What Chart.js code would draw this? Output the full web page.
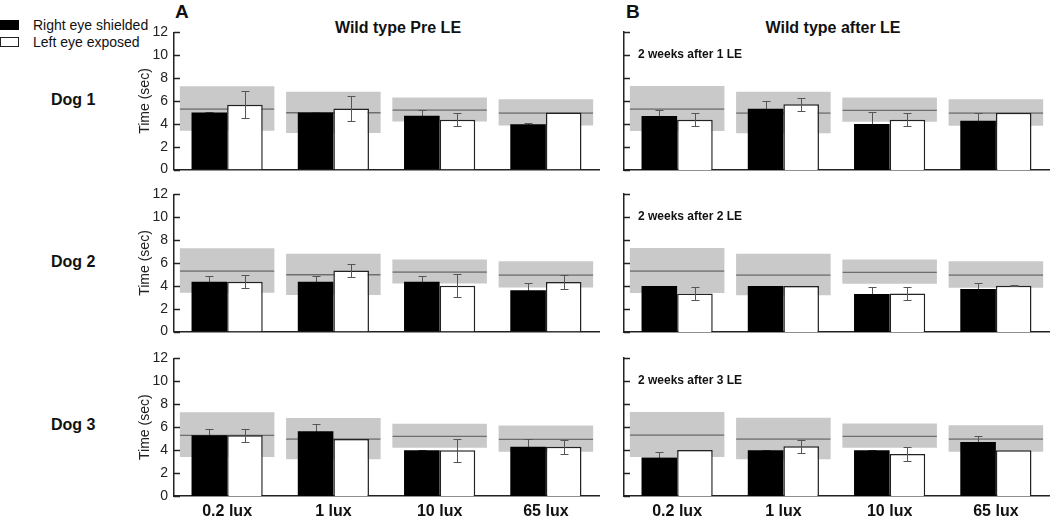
<!DOCTYPE html>
<html>
<head>
<meta charset="utf-8">
<script src="https://cdn.jsdelivr.net/npm/chart.js@4.4.1/dist/chart.umd.min.js"></script>
<style>
  body { margin: 0; background: #fff; font-family: "Liberation Sans", Arial, sans-serif; color: #111; }
  #page { position: relative; width: 1050px; height: 516px; overflow: hidden; }
  canvas { position: absolute; }
  .lbl { position: absolute; white-space: nowrap; }
  .swatch { position: absolute; left: 0; width: 19px; height: 10px; box-sizing: border-box; }
  .legend { font-size: 14px; line-height: 16px; left: 33px; }
  .letter { font-size: 19px; font-weight: bold; top: 1px; }
  .title { font-size: 16px; font-weight: bold; top: 18px; line-height: 19px; transform: translateX(-50%); }
  .dog { font-size: 16px; font-weight: bold; left: 51px; line-height: 18px; }
</style>
</head>
<body>
<div id="page">
  <div class="swatch" style="top:20px;background:#000;"></div>
  <div class="swatch" style="top:37px;background:#fff;border:1.5px solid #222;"></div>
  <div class="lbl legend" style="top:17px;">Right eye shielded</div>
  <div class="lbl legend" style="top:34px;">Left eye exposed</div>
  <div class="lbl letter" style="left:175px;">A</div>
  <div class="lbl letter" style="left:626px;">B</div>
  <div class="lbl title" style="left:398px;">Wild type Pre LE</div>
  <div class="lbl title" style="left:833px;">Wild type after LE</div>
  <div class="lbl dog" style="top:91px;">Dog 1</div>
  <div class="lbl dog" style="top:253px;">Dog 2</div>
  <div class="lbl dog" style="top:416px;">Dog 3</div>

  <canvas id="a1" width="480" height="166" style="left:120px;top:18px;"></canvas>
  <canvas id="b1" width="450" height="166" style="left:600px;top:18px;"></canvas>
  <canvas id="a2" width="480" height="166" style="left:120px;top:180px;"></canvas>
  <canvas id="b2" width="450" height="166" style="left:600px;top:180px;"></canvas>
  <canvas id="a3" width="480" height="172" style="left:120px;top:344px;"></canvas>
  <canvas id="b3" width="450" height="172" style="left:600px;top:344px;"></canvas>
</div>
<script>
const luxLevels = ['0.2 lux', '1 lux', '10 lux', '65 lux'];

// grey band = normal range, line = normal mean
const normLow = [3.4, 3.2, 4.2, 3.85];
const normHigh = [7.3, 6.8, 6.3, 6.15];
const normMean = [5.37, 5.03, 5.27, 5.02];

// Wild type Pre LE, one row per dog
const preShielded = [
    [5.0, 5.0, 4.7, 3.97],
    [4.35, 4.35, 4.35, 3.62],
    [5.3, 5.64, 3.98, 4.3]
];
const preShieldedErr = [
    [0.05, 0.05, 0.55, 0.08],
    [0.55, 0.55, 0.55, 0.63],
    [0.58, 0.64, 0.03, 0.64]
];
const preExposed = [
    [5.67, 5.35, 4.37, 5.0],
    [4.35, 5.35, 4.0, 4.33],
    [5.3, 4.98, 3.98, 4.3]
];
const preExposedErr = [
    [1.18, 1.13, 0.58, 0],
    [0.56, 0.58, 1.0, 0.58],
    [0.58, 0, 1.0, 0.6]
];

// Wild type after LE
const postShielded = [
    [4.7, 5.33, 4.0, 4.29],
    [4.0, 4.0, 3.3, 3.75],
    [3.35, 3.98, 3.98, 4.7]
];
const postShieldedErr = [
    [0.55, 0.67, 1.04, 0.64],
    [0.03, 0.03, 0.6, 0.55],
    [0.5, 0.05, 0.03, 0.55]
];
const postExposed = [
    [4.38, 5.71, 4.38, 4.98],
    [3.35, 4.0, 3.35, 4.02],
    [4.0, 4.33, 3.66, 3.98]
];
const postExposedErr = [
    [0.57, 0.55, 0.57, 0],
    [0.54, 0, 0.54, 0.03],
    [0, 0.58, 0.6, 0]
];

const postNotes = ['2 weeks after 1 LE', '2 weeks after 2 LE', '2 weeks after 3 LE'];

const FONT = '"Liberation Sans", Arial, sans-serif';
const AXIS_COLOR = '#222';

function drawErrors(chart, index) {
    const ds = chart.data.datasets[index];
    if (!ds.errors) return;
    const meta = chart.getDatasetMeta(index);
    const y = chart.scales.y;
    const ctx = chart.ctx;
    ctx.save();
    ctx.strokeStyle = '#555';
    ctx.lineWidth = 1;
    meta.data.forEach((bar, i) => {
        const e = ds.errors[i];
        if (!e) return;
        const v = ds.data[i];
        const top = Math.round(y.getPixelForValue(v + e)) + 0.5;
        const bot = Math.round(y.getPixelForValue(v - e)) + 0.5;
        const x = Math.round(bar.x) + 0.5;
        ctx.beginPath();
        ctx.moveTo(x, top); ctx.lineTo(x, bot);
        ctx.moveTo(x - 4, top); ctx.lineTo(x + 4, top);
        ctx.moveTo(x - 4, bot); ctx.lineTo(x + 4, bot);
        ctx.stroke();
    });
    ctx.restore();
}

// black bars hide the lower whisker, white bars show it
const errorBars = {
    id: 'errorBars',
    beforeDatasetDraw(chart, args) {
        if (chart.data.datasets[args.index].errorBehind) drawErrors(chart, args.index);
    },
    afterDatasetDraw(chart, args) {
        if (!chart.data.datasets[args.index].errorBehind) drawErrors(chart, args.index);
    }
};

// tick marks pointing into the plot, plus the "2 weeks after" note
const panelExtras = {
    id: 'panelExtras',
    afterDraw(chart, args, opts) {
        const ctx = chart.ctx;
        const y = chart.scales.y;
        const area = chart.chartArea;
        ctx.save();
        ctx.strokeStyle = AXIS_COLOR;
        ctx.lineWidth = 1.5;
        y.ticks.forEach(t => {
            const py = Math.round(y.getPixelForValue(t.value)) + 0.5;
            ctx.beginPath();
            ctx.moveTo(area.left, py);
            ctx.lineTo(area.left + 6, py);
            ctx.stroke();
        });
        if (opts.note) {
            ctx.fillStyle = '#111';
            ctx.font = 'bold 12px ' + FONT;
            ctx.textBaseline = 'middle';
            ctx.fillText(opts.note, area.left + 14, y.getPixelForValue(10));
        }
        ctx.restore();
    }
};

function makePanel(id, shielded, shieldedErr, exposed, exposedErr, showY, showX, note) {
    const bandWidth = { grouped: false, categoryPercentage: 0.89, barPercentage: 1 };
    new Chart(document.getElementById(id), {
        type: 'bar',
        data: {
            labels: luxLevels,
            datasets: [
                {
                    label: 'Right eye shielded',
                    data: shielded,
                    errors: shieldedErr,
                    errorBehind: true,
                    backgroundColor: '#000',
                    borderWidth: 0,
                    categoryPercentage: 0.67,
                    barPercentage: 1,
                    order: 0
                },
                {
                    label: 'Left eye exposed',
                    data: exposed,
                    errors: exposedErr,
                    backgroundColor: '#fff',
                    borderColor: '#222',
                    borderWidth: 1.5,
                    categoryPercentage: 0.67,
                    barPercentage: 1,
                    order: 0
                },
                Object.assign({
                    label: 'normal mean',
                    data: normLow.map((lo, i) => [lo, normMean[i]]),
                    backgroundColor: 'rgba(0,0,0,0)',
                    borderColor: '#6e6e6e',
                    borderWidth: { top: 1.5, bottom: 0, left: 0, right: 0 },
                    borderSkipped: false,
                    order: 1
                }, bandWidth),
                Object.assign({
                    label: 'normal range',
                    data: normLow.map((lo, i) => [lo, normHigh[i]]),
                    backgroundColor: '#c9c9c9',
                    borderWidth: 0,
                    order: 2
                }, bandWidth)
            ]
        },
        options: {
            responsive: false,
            animation: false,
            devicePixelRatio: 1,
            layout: { padding: { top: 14, right: 1, left: 0, bottom: 0 } },
            plugins: {
                legend: { display: false },
                tooltip: { enabled: false },
                panelExtras: { note: note }
            },
            scales: {
                x: {
                    grid: { display: false, drawTicks: false },
                    border: { display: true, color: AXIS_COLOR, width: 1.5 },
                    ticks: {
                        display: showX,
                        color: '#111',
                        padding: 6,
                        maxRotation: 0,
                        autoSkip: false,
                        font: { family: FONT, size: 16, weight: 'bold' }
                    },
                    afterFit(scale) { scale.height = showX ? 20 : 14; }
                },
                y: {
                    min: 0,
                    max: 12,
                    grid: { display: false, drawTicks: false },
                    border: { display: true, color: AXIS_COLOR, width: 1.5 },
                    ticks: {
                        display: showY,
                        stepSize: 2,
                        color: '#222',
                        padding: 6,
                        font: { family: FONT, size: 14 }
                    },
                    title: {
                        display: showY,
                        text: 'Time (sec)',
                        color: '#222',
                        padding: { top: 16.6, bottom: 0 },
                        font: { family: FONT, size: 14 }
                    },
                    afterFit(scale) { scale.width = showY ? 54 : 24; }
                }
            }
        },
        plugins: [errorBars, panelExtras]
    });
}

for (let d = 0; d < 3; d++) {
    const lastRow = d === 2;
    makePanel('a' + (d + 1), preShielded[d], preShieldedErr[d], preExposed[d], preExposedErr[d], true, lastRow, null);
    makePanel('b' + (d + 1), postShielded[d], postShieldedErr[d], postExposed[d], postExposedErr[d], false, lastRow, postNotes[d]);
}
</script>
</body>
</html>
